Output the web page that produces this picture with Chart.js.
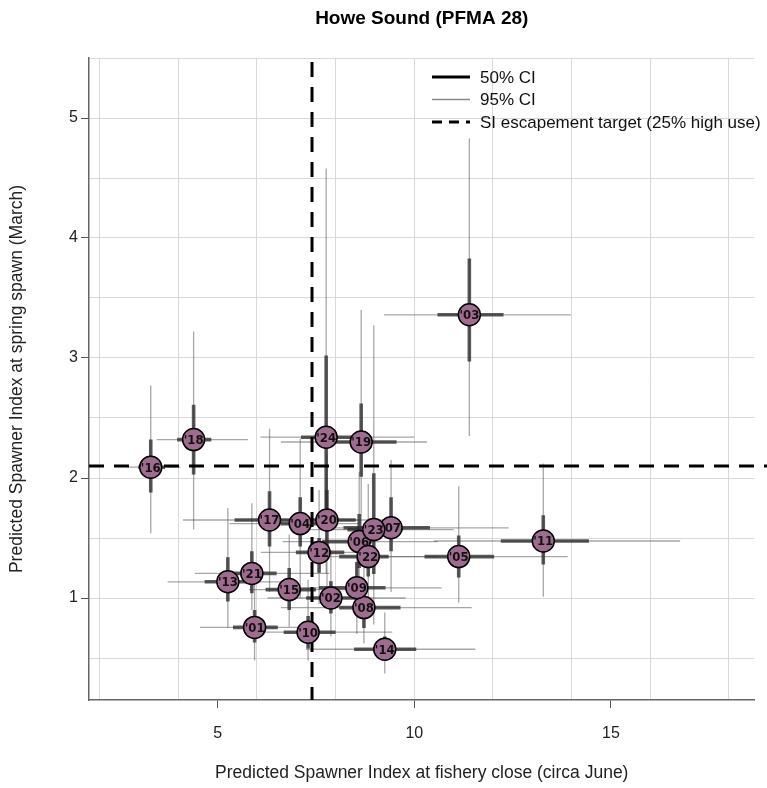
<!DOCTYPE html>
<html>
<head>
<meta charset="utf-8">
<script src="https://cdn.jsdelivr.net/npm/chart.js@4.4.1/dist/chart.umd.min.js"></script>
<style>
  html, body { margin: 0; padding: 0; background: #ffffff; }
  #wrap { width: 767px; height: 788px; }
</style>
</head>
<body>
<div id="wrap"><canvas id="c" width="767" height="788"></canvas></div>
<script>
// Spawn years (labels drawn inside each marker)
const years = ["'01","'02","'03","'04","'05","'06","'07","'08","'09","'10","'11","'12",
               "'13","'14","'15","'16","'17","'18","'19","'20","'21","'22","'23","'24"];

// Median predicted spawner index at fishery close (x) and at spring spawn (y)
const xMed = [5.94, 7.88, 11.40, 7.10, 11.13, 8.60, 9.41, 8.72, 8.54, 7.30, 13.28, 7.58,
              5.26, 9.25, 6.82, 3.30, 6.32, 4.39, 8.65, 7.78, 5.87, 8.83, 8.97, 7.76];
const yMed = [0.755, 1.00, 3.36, 1.62, 1.345, 1.47, 1.585, 0.92, 1.085, 0.715, 1.475, 1.38,
              1.135, 0.573, 1.07, 2.09, 1.65, 2.32, 2.30, 1.65, 1.205, 1.345, 1.57, 2.34];

// 95% credible intervals, fishery close
const x95lo = [4.55, 6.27, 9.23, 5.30, 8.60, 6.65, 7.80, 6.61, 7.00, 6.10, 10.49, 6.10,
               3.73, 7.25, 5.80, 2.70, 4.12, 3.45, 6.61, 6.60, 4.42, 7.30, 7.20, 6.09];
const x95hi = [7.20, 9.78, 13.98, 8.60, 13.90, 10.60, 12.40, 11.46, 10.70, 9.44, 16.76, 9.00,
               6.82, 11.55, 8.30, 4.05, 8.60, 5.77, 10.32, 9.30, 7.84, 10.60, 11.00, 10.00];
// 50% credible intervals, fishery close
const x50lo = [5.39, 7.25, 10.59, 6.60, 10.26, 7.66, 8.20, 8.09, 7.58, 6.68, 12.20, 6.99,
               4.67, 8.47, 6.22, 2.98, 5.43, 3.97, 8.00, 7.41, 5.20, 8.09, 8.30, 7.12];
const x50hi = [6.53, 8.76, 12.27, 7.60, 12.03, 8.92, 10.40, 9.65, 9.27, 8.00, 14.44, 8.22,
               5.89, 10.05, 7.50, 3.66, 7.20, 4.84, 9.55, 8.51, 6.50, 9.35, 9.70, 8.45];

// 95% credible intervals, spring spawn
const y95lo = [0.48, 0.68, 2.35, 1.00, 0.96, 0.95, 1.05, 0.62, 0.70, 0.48, 1.01, 0.95,
               0.75, 0.37, 0.76, 1.54, 1.05, 1.57, 1.50, 1.00, 0.90, 0.85, 0.78, 1.20];
const y95hi = [1.25, 1.40, 4.83, 2.33, 1.93, 2.05, 2.15, 1.35, 1.60, 1.15, 2.12, 1.90,
               1.75, 0.88, 1.53, 2.77, 2.41, 3.22, 3.40, 2.20, 1.79, 1.95, 3.27, 4.58];
// 50% credible intervals, spring spawn
const y50lo = [0.63, 0.87, 2.97, 1.43, 1.17, 1.25, 1.39, 0.75, 0.90, 0.58, 1.28, 1.21,
               0.97, 0.48, 0.90, 1.88, 1.43, 2.03, 2.01, 1.42, 1.04, 1.18, 1.20, 1.75];
const y50hi = [0.90, 1.14, 3.83, 1.84, 1.52, 1.70, 1.84, 1.10, 1.30, 0.85, 1.69, 1.50,
               1.34, 0.68, 1.25, 2.32, 1.89, 2.61, 2.62, 1.90, 1.39, 1.57, 2.04, 3.02];

// Reference lines: SI escapement target (25% high use)
const targetX = 7.4;
const targetY = 2.1;

// Axis ticks and labels
const xGridVals = [2, 4, 6, 8, 10, 12, 14, 16, 18];
const xLabelVals = [5, 10, 15];
const yGridVals = [0.5, 1, 1.5, 2, 2.5, 3, 3.5, 4, 4.5, 5, 5.5];
const yLabelVals = [1, 2, 3, 4, 5];

const legendItems = ["50% CI", "95% CI", "SI escapement target (25% high use)"];
const chartTitle = "Howe Sound (PFMA 28)";
const xTitle = "Predicted Spawner Index at fishery close (circa June)";
const yTitle = "Predicted Spawner Index at spring spawn (March)";

const SANS = "'Liberation Sans', Arial, sans-serif";
const NARROW = "'Liberation Sans Narrow', 'DejaVu Sans Condensed', 'Liberation Sans', sans-serif";

const xTickVals = Array.from(new Set([...xGridVals, ...xLabelVals])).sort((a, b) => a - b);

const overlay = {
  id: 'overlay',
  beforeDatasetsDraw(chart) {
    const ctx = chart.ctx;
    const xs = chart.scales.x, ys = chart.scales.y;
    const area = chart.chartArea;
    ctx.save();
    ctx.lineCap = 'butt';
    // thin 95% bars
    ctx.strokeStyle = 'rgba(95,95,95,0.55)';
    ctx.lineWidth = 1.3;
    for (let i = 0; i < years.length; i++) {
      const px = xs.getPixelForValue(xMed[i]), py = ys.getPixelForValue(yMed[i]);
      ctx.beginPath();
      ctx.moveTo(xs.getPixelForValue(x95lo[i]), py);
      ctx.lineTo(xs.getPixelForValue(x95hi[i]), py);
      ctx.moveTo(px, ys.getPixelForValue(y95lo[i]));
      ctx.lineTo(px, ys.getPixelForValue(y95hi[i]));
      ctx.stroke();
    }
    // thick 50% bars
    ctx.strokeStyle = 'rgba(45,45,45,0.78)';
    ctx.lineWidth = 3.6;
    for (let i = 0; i < years.length; i++) {
      const px = xs.getPixelForValue(xMed[i]), py = ys.getPixelForValue(yMed[i]);
      ctx.beginPath();
      ctx.moveTo(xs.getPixelForValue(x50lo[i]), py);
      ctx.lineTo(xs.getPixelForValue(x50hi[i]), py);
      ctx.moveTo(px, ys.getPixelForValue(y50lo[i]));
      ctx.lineTo(px, ys.getPixelForValue(y50hi[i]));
      ctx.stroke();
    }
    // escapement target lines
    ctx.strokeStyle = '#000';
    ctx.lineWidth = 3;
    ctx.setLineDash([15, 10]);
    const tx = xs.getPixelForValue(targetX);
    ctx.beginPath();
    ctx.moveTo(tx, area.top + 4);
    ctx.lineTo(tx, area.bottom);
    ctx.stroke();
    const ty = ys.getPixelForValue(targetY);
    ctx.beginPath();
    ctx.moveTo(area.left, ty);
    ctx.lineTo(chart.width, ty);
    ctx.stroke();
    ctx.restore();
  },
  afterDatasetsDraw(chart) {
    const ctx = chart.ctx;
    const xs = chart.scales.x, ys = chart.scales.y;
    const area = chart.chartArea;
    ctx.save();
    // year labels in markers
    ctx.fillStyle = '#111';
    ctx.font = "bold 13px " + NARROW;
    ctx.textAlign = 'center';
    ctx.textBaseline = 'middle';
    for (let i = 0; i < years.length; i++) {
      ctx.fillText(years[i], xs.getPixelForValue(xMed[i]), ys.getPixelForValue(yMed[i]) + 1);
    }
    // legend
    const lx = 432, ly = 77, step = 22.5;
    ctx.textAlign = 'left';
    ctx.font = "17px " + SANS;
    ctx.fillStyle = '#111';
    const styles = [
      { c: '#000', w: 3, d: [] },
      { c: '#888', w: 1.5, d: [] },
      { c: '#000', w: 3, d: [10, 7] }
    ];
    legendItems.forEach((t, k) => {
      const y = ly + k * step;
      ctx.strokeStyle = styles[k].c;
      ctx.lineWidth = styles[k].w;
      ctx.setLineDash(styles[k].d);
      ctx.beginPath();
      ctx.moveTo(lx, y);
      ctx.lineTo(lx + 38, y);
      ctx.stroke();
      ctx.fillText(t, lx + 48, y + 1);
    });
    ctx.setLineDash([]);
    // chart title
    ctx.font = "bold 19px " + SANS;
    ctx.textAlign = 'center';
    ctx.fillStyle = '#000';
    ctx.fillText(chartTitle, (area.left + area.right) / 2, 19);
    ctx.restore();
  }
};

new Chart(document.getElementById('c'), {
  type: 'scatter',
  data: {
    datasets: [{
      data: xMed.map((x, i) => ({ x: x, y: yMed[i] })),
      pointRadius: 11,
      pointHoverRadius: 11,
      pointBackgroundColor: '#9f6c90',
      pointBorderColor: '#000',
      pointBorderWidth: 1.5
    }]
  },
  options: {
    responsive: false,
    animation: false,
    devicePixelRatio: 1,
    layout: { padding: { top: 58, right: 10, left: 0, bottom: 0 } },
    plugins: {
      legend: { display: false },
      tooltip: { enabled: false },
      title: { display: false }
    },
    events: [],
    scales: {
      x: {
        type: 'linear',
        position: 'bottom',
        min: 1.73,
        max: 18.65,
        afterBuildTicks: s => { s.ticks = xTickVals.map(v => ({ value: v })); },
        afterFit: s => { s.height = 88; },
        ticks: {
          autoSkip: false,
          maxRotation: 0,
          padding: 16,
          color: '#222',
          font: { family: SANS, size: 16 },
          callback: v => xLabelVals.includes(v) ? String(v) : ''
        },
        grid: {
          drawTicks: true,
          tickLength: 8,
          lineWidth: 1,
          color: c => (c.tick && xGridVals.includes(c.tick.value)) ? '#d9d9d9' : 'rgba(0,0,0,0)',
          tickColor: c => (c.tick && xLabelVals.includes(c.tick.value)) ? '#555' : 'rgba(0,0,0,0)'
        },
        border: { display: true, color: '#666', width: 1.5 },
        title: {
          display: true,
          text: xTitle,
          color: '#222',
          font: { family: SANS, size: 17.5 },
          padding: { top: 0, bottom: 4 }
        }
      },
      y: {
        type: 'linear',
        min: 0.15,
        max: 5.5,
        afterBuildTicks: s => { s.ticks = yGridVals.map(v => ({ value: v })); },
        afterFit: s => { s.width = 89; },
        ticks: {
          autoSkip: false,
          padding: 3,
          color: '#222',
          font: { family: SANS, size: 16 },
          callback: v => yLabelVals.includes(v) ? String(v) : ''
        },
        grid: {
          drawTicks: true,
          tickLength: 8,
          lineWidth: 1,
          color: '#d9d9d9',
          tickColor: c => (c.tick && yLabelVals.includes(c.tick.value)) ? '#555' : 'rgba(0,0,0,0)'
        },
        border: { display: true, color: '#666', width: 1.5 },
        title: {
          display: true,
          text: yTitle,
          color: '#222',
          font: { family: SANS, size: 17.5 },
          padding: { top: 7, bottom: 0 }
        }
      }
    }
  },
  plugins: [overlay]
});
</script>
</body>
</html>
